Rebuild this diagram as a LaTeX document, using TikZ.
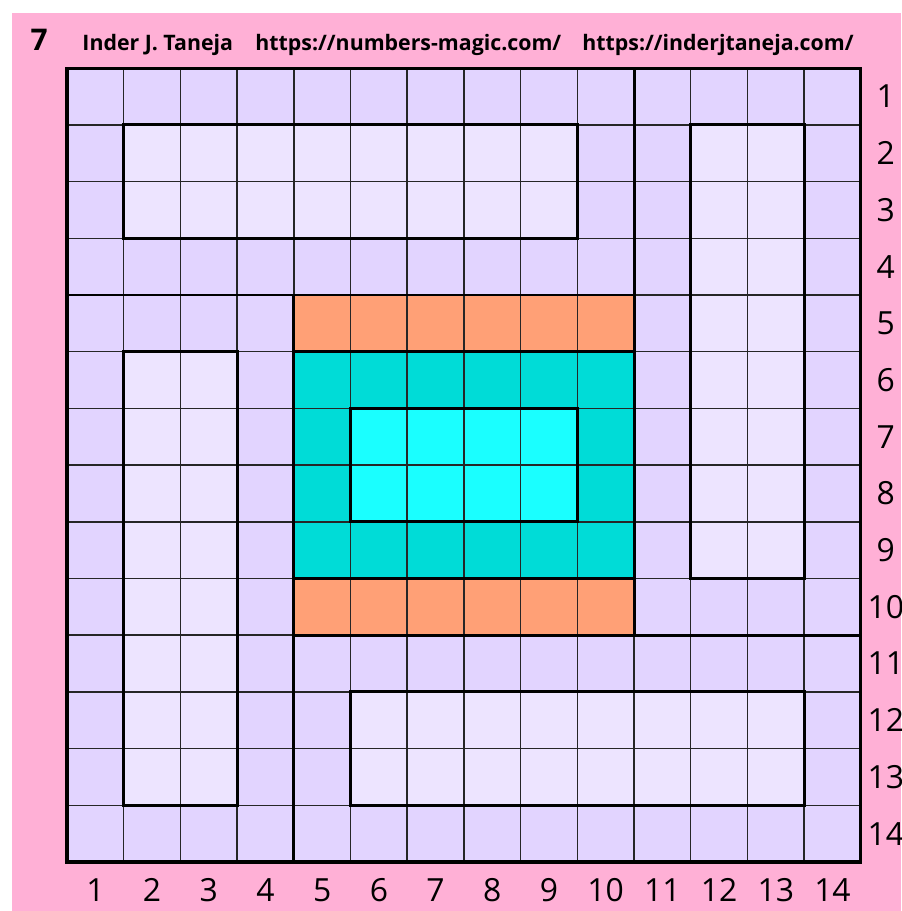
\documentclass[tikz,border=0pt]{standalone}
\usepackage{fontspec}
\setmainfont{Open Sans}
\definecolor{pinkbg}{RGB}{255,176,214}
\definecolor{lav}{RGB}{226,212,255}
\definecolor{lavlight}{RGB}{237,228,255}
\definecolor{salmon}{RGB}{255,160,118}
\definecolor{tealc}{RGB}{0,220,215}
\definecolor{aqua}{RGB}{26,255,255}

\begin{document}
\begin{tikzpicture}[x=1cm,y=1cm,
  thingrid/.style={line width=0.75pt,draw=black!85},
  boldline/.style={line width=1.5pt,draw=black},
  outerline/.style={line width=1.6pt,draw=black},
  numlbl/.style={font=\fontsize{16}{16}\selectfont,inner sep=0pt},
  headtxt/.style={font=\fontsize{10.7}{12}\bfseries,anchor=base west,inner sep=0pt}]
  \useasboundingbox (-1.182,-0.864) rectangle (14.709,15.203);
  \fill[white] (-1.182,-0.864) rectangle (14.709,15.203);
  \fill[pinkbg] (-0.970,-0.864) rectangle (14.709,14.974);
  % cells
  \fill[lav] (0,0) rectangle (14,14);
  \fill[lavlight] (1,11) rectangle (9,13);
  \fill[lavlight] (11,5) rectangle (13,13);
  \fill[lavlight] (1,1) rectangle (3,9);
  \fill[lavlight] (5,1) rectangle (13,3);
  \fill[salmon] (4,9) rectangle (10,10);
  \fill[salmon] (4,4) rectangle (10,5);
  \fill[tealc] (4,5) rectangle (10,9);
  \fill[aqua] (5,6) rectangle (9,8);
  \draw[thingrid] (0,0) grid (14,14);
  % block borders
  \draw[boldline] (10,14) -- (10,4) -- (14,4);
  \draw[boldline] (0,10) -- (4,10) -- (4,0);
  \draw[boldline] (4,4) rectangle (10,10);
  \draw[boldline] (4,9) -- (10,9);
  \draw[boldline] (4,5) -- (10,5);
  \draw[boldline] (1,11) rectangle (9,13);
  \draw[boldline] (11,5) rectangle (13,13);
  \draw[boldline] (1,1) rectangle (3,9);
  \draw[boldline] (5,1) rectangle (13,3);
  \draw[boldline] (5,6) rectangle (9,8);
  \draw[outerline] (0,0) rectangle (14,14);
  % labels
  \foreach \i in {1,...,14} {
    \node[numlbl] (row\i) at (14.44,14.5-\i) {\i};
    \node[numlbl] (col\i) at (\i-0.5,-0.49) {\i};
  }
  \node[font=\fontsize{15}{15}\bfseries,inner sep=0pt,anchor=base] (num) at (-0.49,14.32) {7};
  \node[headtxt] (author) at (0.265,14.32) {Inder J. Taneja};
  \node[headtxt] (site1) at (3.316,14.32) {https://numbers-magic.com/};
  \node[headtxt] (site2) at (9.083,14.32) {https://inderjtaneja.com/};
\end{tikzpicture}
\end{document}
